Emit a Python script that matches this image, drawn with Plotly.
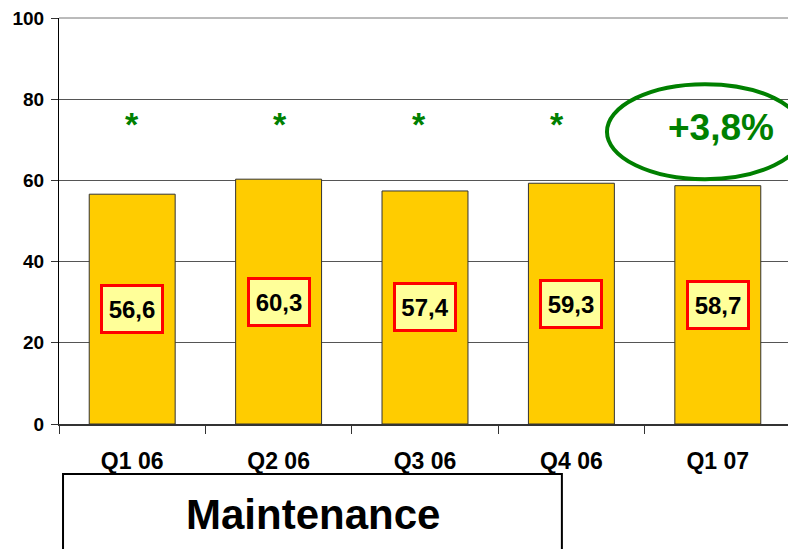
import plotly.graph_objects as go

quarters = ["Q1 06", "Q2 06", "Q3 06", "Q4 06", "Q1 07"]
values = [56.6, 60.3, 57.4, 59.3, 58.7]
value_labels = ["56,6", "60,3", "57,4", "59,3", "58,7"]
star_quarters = ["Q1 06", "Q2 06", "Q3 06", "Q4 06"]
star_level = 75
change_label = "+3,8%"
change_quarter = "Q1 07"
change_level = 73
title_text = "Maintenance"
y_ticks = [0, 20, 40, 60, 80, 100]

FONT = "Liberation Sans, Arial, sans-serif"
GREEN = "#008000"

fig = go.Figure()
fig.add_trace(go.Bar(
    x=quarters, y=values, width=0.587,
    marker=dict(color="#FFCC00", line=dict(color="#333333", width=1)),
    hoverinfo="skip",
))

# value boxes in the middle of each bar
for q, v, lab in zip(quarters, values, value_labels):
    fig.add_annotation(
        x=q, y=v / 2, text=lab, showarrow=False,
        font=dict(family=FONT, size=24, color="black", weight="bold"),
        bgcolor="#FFFF99", bordercolor="#FF0000", borderwidth=3, borderpad=0,
        width=58, height=44, xanchor="center", yanchor="middle",
    )

star_shifts = [0, 1, -6, -14]
for q, s in zip(star_quarters, star_shifts):
    fig.add_annotation(
        x=q, y=star_level, text="*", showarrow=False, xshift=s, yshift=-4,
        font=dict(family=FONT, size=34, color=GREEN, weight="bold"),
        xanchor="center", yanchor="middle",
    )

fig.add_annotation(
    x=change_quarter, y=change_level, text=change_label, showarrow=False, xshift=3,
    font=dict(family=FONT, size=37, color=GREEN, weight="bold"),
    xanchor="center", yanchor="middle",
)

# ellipse around the change label
fig.add_shape(type="circle", xref="paper", yref="paper",
              x0=0.7486, x1=1.0164, y0=0.603, y1=0.837,
              line=dict(color=GREEN, width=4), layer="above")

# right border line and top line
fig.add_shape(type="line", xref="paper", yref="paper",
              x0=1, x1=1, y0=0, y1=1, line=dict(color="#AAAAAA", width=1))
fig.add_shape(type="line", xref="paper", yref="paper",
              x0=0, x1=1, y0=1, y1=1, line=dict(color="#777777", width=1))

# title box
fig.add_shape(type="rect", xref="paper", yref="paper",
              x0=0.0055, x1=0.687, y0=-0.1232, y1=-0.4,
              line=dict(color="black", width=2), fillcolor="white")
fig.add_annotation(
    xref="paper", yref="paper", x=0.347, y=-0.224, text=title_text, showarrow=False,
    font=dict(family=FONT, size=42, color="black", weight="bold"),
    xanchor="center", yanchor="middle",
)

fig.update_layout(
    width=788, height=541,
    margin=dict(l=51, r=5, t=10, b=125, autoexpand=False),
    paper_bgcolor="white", plot_bgcolor="white",
    showlegend=False,
    bargap=0.413,
    font=dict(family=FONT),
)
fig.update_xaxes(
    type="category", showgrid=False, automargin=False,
    showline=True, linecolor="#333333", linewidth=2,
    ticks="outside", ticklen=8, tickcolor="#333333", tickwidth=1,
    tickson="boundaries",
    tickfont=dict(family=FONT, size=23, color="black", weight="bold"),
    ticklabelstandoff=15,
    range=[-0.5, 4.5],
)
fig.update_yaxes(
    range=[0, 100], tickvals=y_ticks, automargin=False,
    showgrid=True, gridcolor="#555555", gridwidth=1,
    showline=True, linecolor="black", linewidth=1,
    ticks="outside", ticklen=7, tickcolor="#333333",
    tickfont=dict(family=FONT, size=19, color="black", weight="bold"),
    ticklabelstandoff=3, ticklabeloverflow="allow",
    zeroline=False,
)

fig.write_html("out.html")
